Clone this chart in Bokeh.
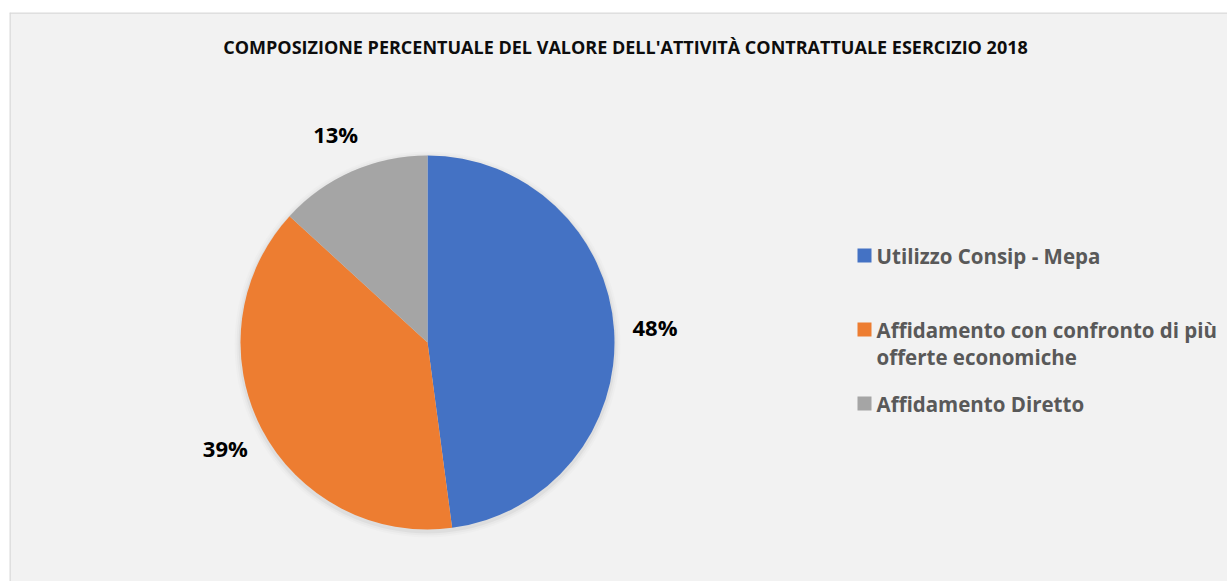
import math
from bokeh.plotting import figure
from bokeh.models import Range1d, Span, ColumnDataSource
from bokeh.core.properties import value
from bokeh.embed import file_html
from bokeh.resources import INLINE

# ---- data ----
title_text = "COMPOSIZIONE PERCENTUALE DEL VALORE DELL'ATTIVITÀ CONTRATTUALE ESERCIZIO 2018"
categories = ["Utilizzo Consip - Mepa",
              "Affidamento con confronto di più offerte economiche",
              "Affidamento Diretto"]
legend_lines = [["Utilizzo Consip - Mepa"],
                ["Affidamento con confronto di più", "offerte economiche"],
                ["Affidamento Diretto"]]
values = [47.9, 38.9, 13.2]
colors = ["#4472C4", "#ED7D31", "#A5A5A5"]

# ---- layout (page pixel coordinates; y data = -page y) ----
W, H = 1227, 581
left_pad, top_pad = 9, 12
x0, x1 = left_pad, W
y_top, y_bot = top_pad, H
cx, cy, R = 427, -342, 187
label_r = 228
legend_sq_x, legend_text_x = 864, 876
legend_y = [255, 329, 403]
line_h = 27
FONT = value("Open Sans")

p = figure(width=W, height=H, output_backend="svg", toolbar_location=None,
           x_range=Range1d(x0, x1), y_range=Range1d(-y_bot, -y_top),
           x_axis_location=None, y_axis_location=None,
           min_border_left=left_pad, min_border_top=top_pad,
           min_border_right=0, min_border_bottom=0,
           background_fill_color="#F2F2F2", border_fill_color="white",
           outline_line_color=None)
p.grid.visible = False

# border of chart area (left and top visible)
p.add_layout(Span(location=x0 + 0.5, dimension="height", line_color="#D9D9D9", line_width=1.5))
p.add_layout(Span(location=-(y_top + 0.5), dimension="width", line_color="#D9D9D9", line_width=1.5))

# title
p.text(x=[625], y=[-46], text=[title_text], text_font=FONT, text_font_style="bold",
       text_font_size="18px", text_color="#0D0D0D", text_align="center", text_baseline="middle")

# soft shadow
for k, a in [(6, 0.015), (4, 0.025), (2, 0.04)]:
    p.circle(x=[cx], y=[cy - 2], radius=R + k, fill_color="black", fill_alpha=a, line_color=None)

# pie
total = sum(values)
starts, ends, mids = [], [], []
ang = math.pi / 2
for v in values:
    span = 2 * math.pi * v / total
    starts.append(ang)
    ends.append(ang - span)
    mids.append(ang - span / 2)
    ang -= span
src = ColumnDataSource(dict(start=starts, end=ends, color=colors, cat=categories))
p.wedge(x=cx, y=cy, radius=R, start_angle="start", end_angle="end", direction="clock",
        fill_color="color", line_color=None, source=src)

# percentage labels
lx = [cx + label_r * math.cos(m) for m in mids]
ly = [cy + label_r * math.sin(m) for m in mids]
labels = [f"{round(v / total * 100)}%" for v in values]
p.text(x=lx, y=ly, text=labels, text_font=FONT, text_font_style="bold", text_font_size="22px",
       text_color="black", text_align="center", text_baseline="middle")

# legend
p.scatter(x=[legend_sq_x] * len(colors), y=[-yy for yy in legend_y], marker="square", size=14,
          fill_color=colors, line_color=None)
tx, ty, tt = [], [], []
for lines, yy in zip(legend_lines, legend_y):
    for i, ln in enumerate(lines):
        tx.append(legend_text_x)
        ty.append(-(yy + i * line_h))
        tt.append(ln)
p.text(x=tx, y=ty, text=tt, text_font=FONT, text_font_style="bold", text_font_size="20.5px",
       text_color="#595959", text_align="left", text_baseline="middle")

open("out.html", "w").write(file_html(p, INLINE))
